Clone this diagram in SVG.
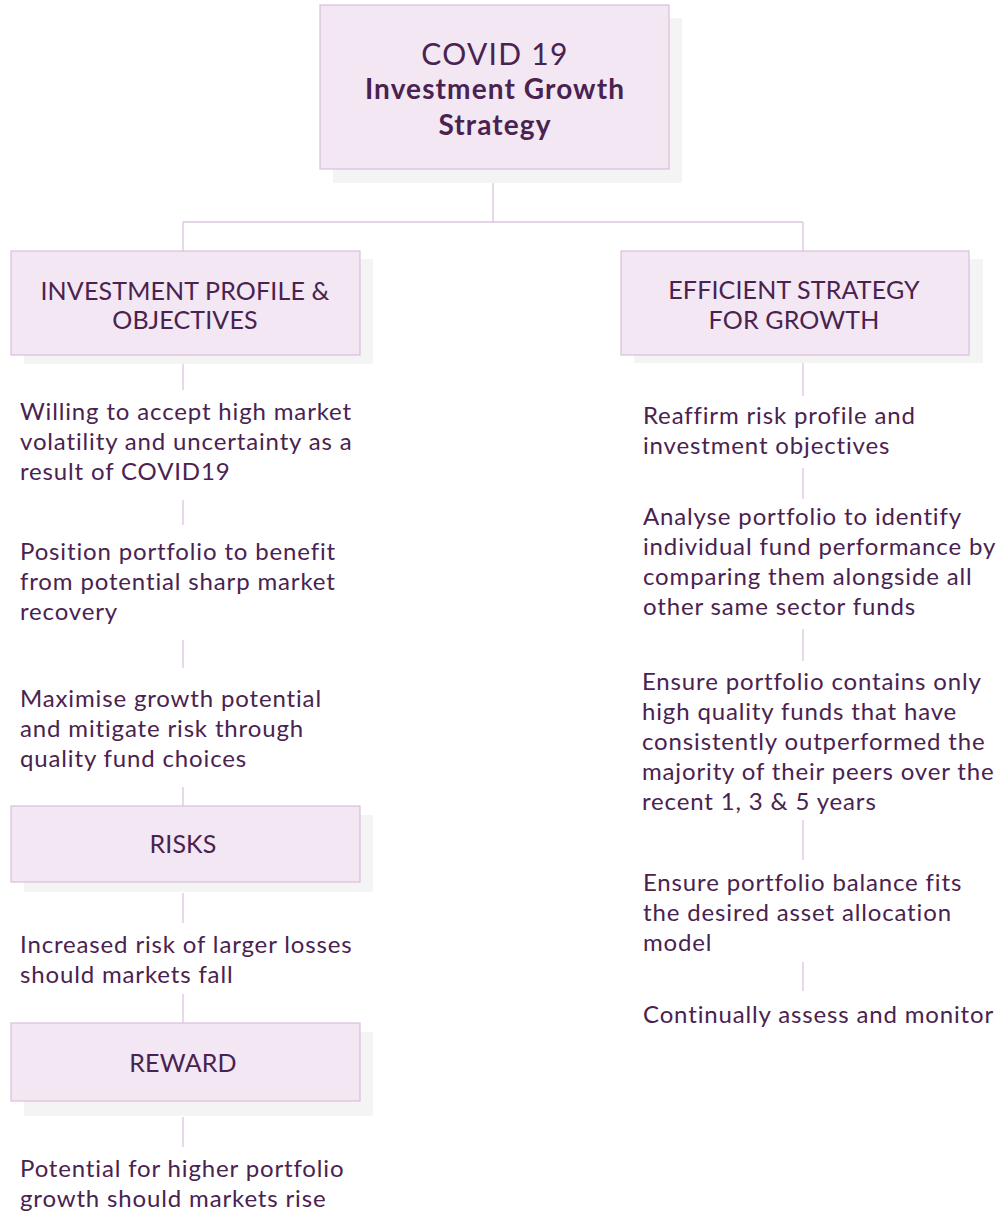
<svg xmlns="http://www.w3.org/2000/svg" width="1000" height="1222" viewBox="0 0 1000 1222">
<style>
.shadow{fill:#f4f4f4}
.box{fill:#f2e7f3;stroke:#d8c0db;stroke-width:1.2}
.conn{stroke:#dcc5df;stroke-width:1.3;fill:none}
text{font-family:Lato,"Liberation Sans",sans-serif;fill:#4a2250}
.h{font-size:25px;text-anchor:middle;letter-spacing:0.15px}
.t{font-size:24px;letter-spacing:0.85px}
.ttl{font-size:30px;text-anchor:middle;letter-spacing:1.3px}
.ttlb{font-size:28px;font-weight:bold;text-anchor:middle;letter-spacing:1.1px}
</style>
<rect width="1000" height="1222" fill="#ffffff"/>
<g id="connectors">
<path class="conn" d="M493,169V222M183,222H803M183,222V251M803,222V251"/>
<path class="conn" d="M183,364V390M183,500V525M183,640V668M183,787V806M183,893V923M183,994V1023M183,1117V1147"/>
<path class="conn" d="M803,363V396M803,468V499M803,629V661M803,820V860M803,962V991"/>
</g>
<g id="root">
<rect class="shadow" x="333" y="18" width="349" height="165"/>
<rect class="box" x="320" y="5" width="349" height="164"/>
<text class="ttl" x="495" y="65">COVID 19</text>
<text class="ttlb" x="495" y="99">Investment Growth</text>
<text class="ttlb" x="495" y="135">Strategy</text>
</g>
<g id="profile">
<rect class="shadow" x="24" y="259" width="349" height="105"/>
<rect class="box" x="11" y="251" width="349" height="104"/>
<text class="h" x="185" y="300">INVESTMENT PROFILE &amp;</text>
<text class="h" x="185" y="329">OBJECTIVES</text>
</g>
<g id="strategy">
<rect class="shadow" x="634" y="259" width="349" height="104"/>
<rect class="box" x="621" y="251" width="348" height="104"/>
<text class="h" x="794" y="299">EFFICIENT STRATEGY</text>
<text class="h" x="794" y="329">FOR GROWTH</text>
</g>
<g id="willing">
<text class="t" x="20" y="420">Willing to accept high market</text>
<text class="t" x="20" y="450">volatility and uncertainty as a</text>
<text class="t" x="20" y="480">result of COVID19</text>
</g>
<g id="position">
<text class="t" x="20" y="560">Position portfolio to benefit</text>
<text class="t" x="20" y="590">from potential sharp market</text>
<text class="t" x="20" y="620">recovery</text>
</g>
<g id="maximise">
<text class="t" x="20" y="707">Maximise growth potential</text>
<text class="t" x="20" y="737">and mitigate risk through</text>
<text class="t" x="20" y="767">quality fund choices</text>
</g>
<g id="risks">
<rect class="shadow" x="24" y="815" width="349" height="77"/>
<rect class="box" x="11" y="806" width="349" height="76"/>
<text class="h" x="183" y="853">RISKS</text>
</g>
<g id="increased">
<text class="t" x="20" y="953">Increased risk of larger losses</text>
<text class="t" x="20" y="983">should markets fall</text>
</g>
<g id="reward">
<rect class="shadow" x="24" y="1032" width="349" height="84"/>
<rect class="box" x="11" y="1023" width="349" height="78"/>
<text class="h" x="183" y="1072">REWARD</text>
</g>
<g id="potential">
<text class="t" x="20" y="1177">Potential for higher portfolio</text>
<text class="t" x="20" y="1207">growth should markets rise</text>
</g>
<g id="reaffirm">
<text class="t" x="643" y="424">Reaffirm risk profile and</text>
<text class="t" x="643" y="454">investment objectives</text>
</g>
<g id="analyse">
<text class="t" x="643" y="525">Analyse portfolio to identify</text>
<text class="t" x="643" y="555">individual fund performance by</text>
<text class="t" x="643" y="585">comparing them alongside all</text>
<text class="t" x="643" y="615">other same sector funds</text>
</g>
<g id="ensure-quality">
<text class="t" x="642" y="690">Ensure portfolio contains only</text>
<text class="t" x="642" y="720">high quality funds that have</text>
<text class="t" x="642" y="750">consistently outperformed the</text>
<text class="t" x="642" y="780">majority of their peers over the</text>
<text class="t" x="642" y="810">recent 1, 3 &amp; 5 years</text>
</g>
<g id="ensure-balance">
<text class="t" x="643" y="891">Ensure portfolio balance fits</text>
<text class="t" x="643" y="921">the desired asset allocation</text>
<text class="t" x="643" y="951">model</text>
</g>
<g id="continually">
<text class="t" x="643" y="1023">Continually assess and monitor</text>
</g>
</svg>
